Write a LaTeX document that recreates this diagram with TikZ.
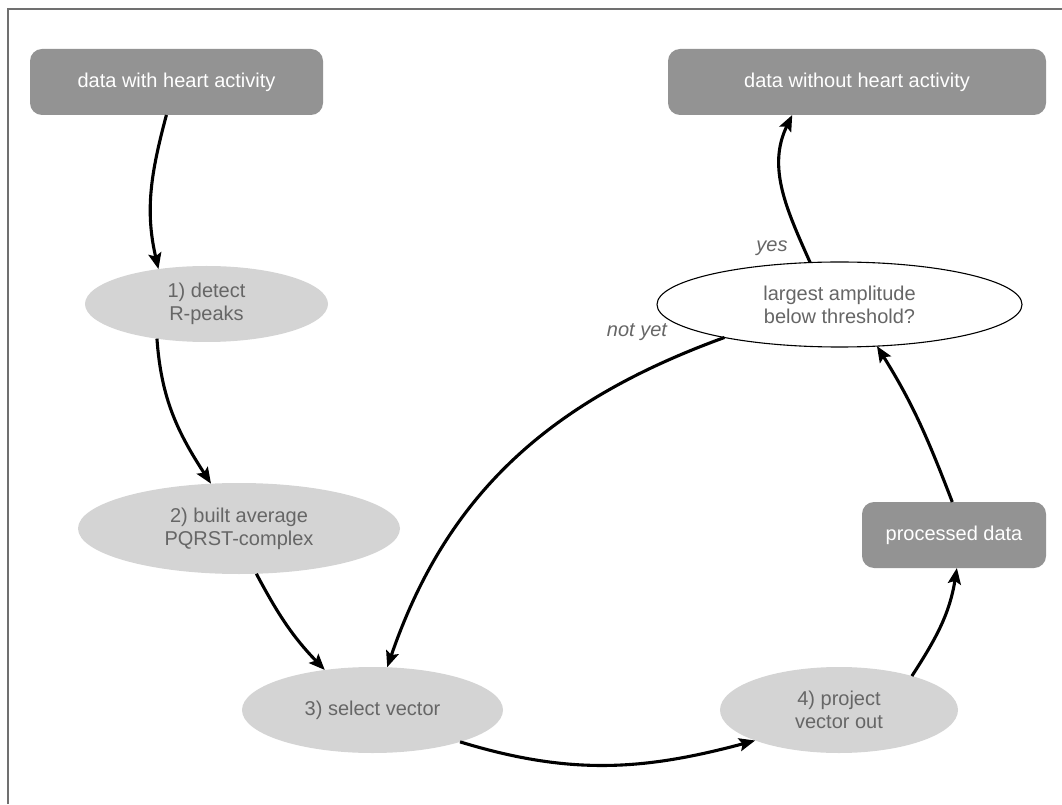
\documentclass[tikz,border=0pt]{standalone}
\usepackage{fontspec}
\setmainfont{Liberation Sans}
\usetikzlibrary{shapes.geometric,arrows.meta}
\definecolor{boxgray}{HTML}{939393}
\definecolor{ellgray}{HTML}{D4D4D4}
\definecolor{txtgray}{HTML}{666666}
\definecolor{framegray}{HTML}{707070}
\begin{document}
\begin{tikzpicture}[x=1pt,y=1pt,
  every node/.style={font=\fontsize{20}{23}\selectfont, inner sep=0pt, outer sep=0pt},
  databox/.style={rectangle, rounded corners=12pt, fill=boxgray, text=white},
  stepell/.style={ellipse, fill=ellgray, text=txtgray, align=center},
  decell/.style={ellipse, fill=white, draw=black, line width=1.1pt, text=txtgray, align=center},
  conn/.style={line width=3.1pt, -{Stealth[length=16pt,width=13pt,inset=3pt]}},
  lbl/.style={text=txtgray, font=\fontsize{20}{23}\selectfont\itshape}
]
\useasboundingbox (0,0) rectangle (1062,804);
\draw[framegray, line width=2pt] (8,0) -- (8,794.5) -- (1062,794.5);

\node[databox, minimum width=293pt, minimum height=66pt] (top1) at (176.5,722) {data with heart activity};
\node[databox, minimum width=378pt, minimum height=66pt] (top2) at (857,722) {data without heart activity};
\node[stepell, minimum width=243pt, minimum height=76pt] (e1) at (206.5,500) {1) detect\\R-peaks};
\node[stepell, minimum width=322pt, minimum height=91pt] (e2) at (239,275.5) {2) built average\\PQRST-complex};
\node[stepell, minimum width=261pt, minimum height=86pt] (e3) at (372.5,94) {3) select vector};
\node[stepell, minimum width=238pt, minimum height=86pt] (e4) at (839,94) {4) project\\vector out};
\node[decell, minimum width=365pt, minimum height=85pt] (q) at (839.5,499.5) {largest amplitude\\below threshold?};
\node[databox, minimum width=184pt, minimum height=66pt] (pd) at (954,269) {processed data};

\draw[conn] (top1.-107) to[out=-105, in=103] (e1.144);
\draw[conn] (e1.-145) to[out=-86, in=123] (e2.122);
\draw[conn] (e2.-69) to[out=-62, in=134] (e3.140);
\draw[conn] (q.-164) to[out=200, in=71] (e3.71);
\draw[conn] (e3.-20) to[out=-17, in=195] (e4.-160);
\draw[conn] (e4.25) to[out=57, in=-99] (pd.-85);
\draw[conn] (pd.93) to[out=111, in=-58] (q.-48);
\draw[conn] (q.125) to[out=114, in=-116] (top2.-153);

\node[lbl] (yes) at (772,556) {yes};
\node[lbl] (notyet) at (637,472) {not yet};
\end{tikzpicture}
\end{document}
